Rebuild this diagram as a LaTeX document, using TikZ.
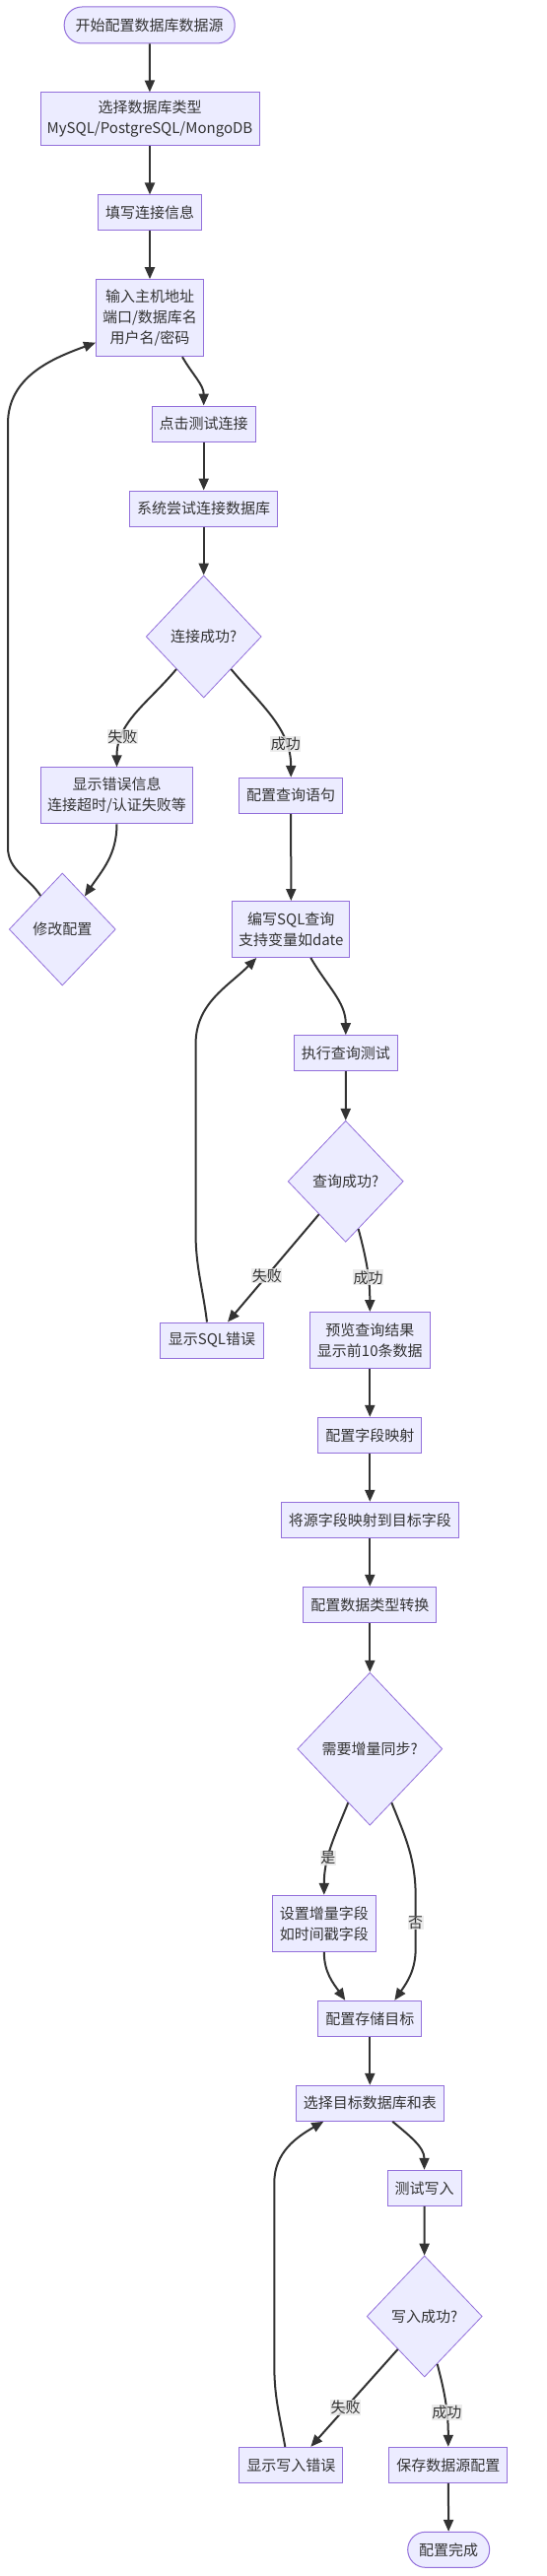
\documentclass[tikz,border=0pt]{standalone}
\usepackage{fontspec}
\setmainfont{Noto Sans CJK SC}
\usetikzlibrary{arrows.meta,shapes.geometric}
\definecolor{fond}{HTML}{ECECFF}
\definecolor{bord}{HTML}{9370DB}
\definecolor{trait}{HTML}{333333}
\definecolor{fondlbl}{HTML}{E8E8E8}
\begin{document}
\begin{tikzpicture}[x=1pt, y=-1pt, font=\fontsize{15}{21}\selectfont]
			\tikzset{boite/.style 2 args={rectangle, draw=bord, fill=fond, line width=1pt, text=trait, align=center, inner sep=0pt, minimum width=#1pt, minimum height=#2pt},
				stade/.style 2 args={boite={#1}{#2}, rounded corners=18pt},
				losange/.style 2 args={diamond, draw=bord, fill=fond, line width=0.8pt, text=trait, inner sep=0pt, minimum width=#1pt, minimum height=#2pt},
				fleche/.style={draw=trait, line width=2pt, -{Triangle[length=12pt, width=10pt]}},
				etiquette/.style={fill=fondlbl, fill opacity=0.8, text opacity=1, text=trait, inner xsep=0.5pt, inner ysep=1pt}};

			\fill[white] (0,0) rectangle (554,2614);

			\node[stade={173}{37}]   (debut)  at (151.7,   25.5) {开始配置数据库数据源};
			\node[boite={222}{54}]   (type)   at (152.0,  121.0) {选择数据库类型\\MySQL/PostgreSQL/MongoDB};
			\node[boite={105}{36}]   (info)   at (152.0,  216.0) {填写连接信息};
			\node[boite={109}{78}]   (hote)   at (152.0,  322.7) {输入主机地址\\端口/数据库名\\用户名/密码};
			\node[boite={105}{36}]   (clic)   at (206.7,  430.0) {点击测试连接};
			\node[boite={150}{36}]   (essai)  at (206.7,  516.0) {系统尝试连接数据库};
			\node[losange={117}{124}] (conok) at (206.7,  646.0) {连接成功?};
			\node[boite={154}{57}]   (erreur) at (118.5,  807.3) {显示错误信息\\连接超时/认证失败等};
			\node[boite={105}{36}]   (requete) at (295.2, 807.3) {配置查询语句};
			\node[losange={108}{114}] (modif) at ( 63.3,  943.0) {修改配置};
			\node[boite={119}{57}]   (sql)    at (295.3,  943.0) {编写SQL查询\\支持变量如date};
			\node[boite={105}{36}]   (exec)   at (350.8, 1068.7) {执行查询测试};
			\node[losange={117}{123}] (qok)   at (350.7, 1198.8) {查询成功?};
			\node[boite={105}{36}]   (sqlerr) at (215.0, 1360.0) {显示SQL错误};
			\node[boite={122}{57}]   (apercu) at (375.3, 1360.0) {预览查询结果\\显示前10条数据};
			\node[boite={105}{36}]   (champs) at (375.3, 1456.3) {配置字段映射};
			\node[boite={180}{36}]   (mappe)  at (375.3, 1542.3) {将源字段映射到目标字段};
			\node[boite={135}{36}]   (conv)   at (375.3, 1628.3) {配置数据类型转换};
			\node[losange={147}{155}] (incr)  at (375.3, 1774.7) {需要增量同步?};
			\node[boite={105}{57}]   (regl)   at (328.8, 1951.8) {设置增量字段\\如时间戳字段};
			\node[boite={105}{36}]   (stock)  at (375.3, 2048.3) {配置存储目标};
			\node[boite={150}{36}]   (cible)  at (375.3, 2134.3) {选择目标数据库和表};
			\node[boite={75}{36}]    (testw)  at (430.5, 2220.3) {测试写入};
			\node[losange={117}{123}] (wok)   at (430.7, 2350.5) {写入成功?};
			\node[boite={105}{36}]   (werr)   at (295.3, 2501.3) {显示写入错误};
			\node[boite={120}{36}]   (sauve)  at (454.8, 2501.3) {保存数据源配置};
			\node[stade={83}{36}]    (fin)    at (455.2, 2587.3) {配置完成};

			\draw[fleche] (debut) -- (type);
			\draw[fleche] (type) -- (info);
			\draw[fleche] (info) -- (hote);
			\draw[fleche] ([xshift=33pt]hote.south) to[out=-60, in=90] (clic);
			\draw[fleche] (clic) -- (essai);
			\draw[fleche] (essai) -- (conok);
			\draw[fleche] (conok) to[out=-130, in=90] node[etiquette, pos=0.74] {失败} (erreur);
			\draw[fleche] (conok) to[out=-50, in=90] node[etiquette, pos=0.74] {成功} (requete);
			\draw[fleche] (erreur) to[out=-90, in=56] (modif);
			\draw[fleche] (modif.123) to[out=123, in=-90] (8,860) -- (8,430) to[out=90, in=200] ([yshift=-25pt]hote.west);
			\draw[fleche] (requete) -- (sql);
			\draw[fleche] ([xshift=20pt]sql.south) to[out=-60, in=90] (exec);
			\draw[fleche] (exec) -- (qok);
			\draw[fleche] (qok.231) -- node[etiquette, pos=0.57] {失败} ([xshift=16pt]sqlerr.north);
			\draw[fleche] (qok) to[out=-75, in=90] node[etiquette, pos=0.6] {成功} (apercu);
			\draw[fleche] ([xshift=-5pt]sqlerr.north) to[out=97, in=-90] (198.5,1250) -- (198.5,1060) to[out=90, in=-135] ([xshift=-35pt]sql.south);
			\draw[fleche] (apercu) -- (champs);
			\draw[fleche] (champs) -- (mappe);
			\draw[fleche] (mappe) -- (conv);
			\draw[fleche] (conv) -- (incr);
			\draw[fleche] (incr) to[out=-112, in=90] node[etiquette, pos=0.62] {是} (regl);
			\draw[fleche] (incr.-68) to[out=-68, in=90] (421.7,1925) -- node[etiquette] {否} (421.7,1977) to[out=-90, in=55] ([xshift=25pt]stock.north);
			\draw[fleche] (regl) to[out=-90, in=125] ([xshift=-25pt]stock.north);
			\draw[fleche] (stock) -- (cible);
			\draw[fleche] ([xshift=23pt]cible.south) to[out=-40, in=90] (testw);
			\draw[fleche] (testw) -- (wok);
			\draw[fleche] (wok.231) -- node[etiquette, pos=0.6] {失败} ([xshift=20pt]werr.north);
			\draw[fleche] (wok) to[out=-75, in=90] node[etiquette, pos=0.6] {成功} (sauve);
			\draw[fleche] ([xshift=-6pt]werr.north) to[out=100, in=-90] (278.3,2400) -- (278.3,2215) to[out=90, in=-150] ([xshift=-47pt]cible.south);
			\draw[fleche] (sauve) -- (fin);

		\end{tikzpicture}
\end{document}
